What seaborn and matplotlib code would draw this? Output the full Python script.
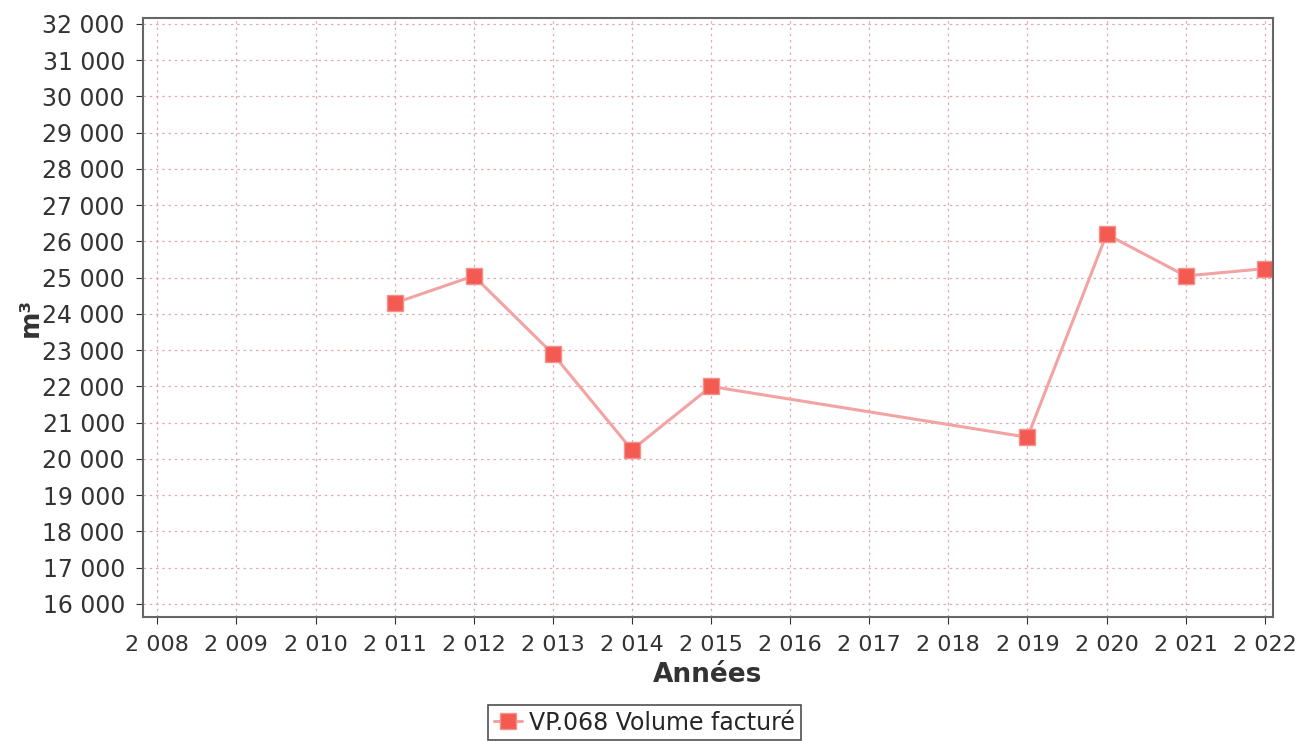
import numpy as np
import pandas as pd
import matplotlib
matplotlib.use("Agg")
import matplotlib.pyplot as plt
import matplotlib.ticker as mticker
import seaborn as sns

# ============================================================
# DATA
# ============================================================
years = [2011, 2012, 2013, 2014, 2015, 2019, 2020, 2021, 2022]
volumes = [24300, 25050, 22900, 20250, 22000, 20600, 26200, 25050, 25250]
series_name = "VP.068 Volume facturé"

df = pd.DataFrame({"Années": years, "m³": volumes, "serie": series_name})

# ============================================================
# PLOT
# ============================================================
sns.set_style("white")
plt.rcParams["font.family"] = ["DejaVu Sans"]

fig = plt.figure(figsize=(13.04, 7.41), dpi=100)
ax = fig.add_axes([0.1097, 0.1673, 0.8663, 0.8084])

sns.lineplot(
    data=df, x="Années", y="m³", hue="serie",
    palette=["#f2a3a3"], marker="s", markersize=11,
    markerfacecolor="#f25a52", markeredgecolor="#f5908a", markeredgewidth=1,
    linewidth=2.2, ax=ax, legend=True,
)

ax.set_xlim(2007.82, 2022.1)
ax.set_ylim(15640, 32165)
ax.xaxis.set_major_locator(mticker.MultipleLocator(1))
ax.yaxis.set_major_locator(mticker.MultipleLocator(1000))

space_fmt = mticker.FuncFormatter(lambda v, p: f"{int(round(v)):,}".replace(",", " "))
ax.xaxis.set_major_formatter(space_fmt)
ax.yaxis.set_major_formatter(space_fmt)

ax.grid(True, color="#e3aab0", linestyle=(0, (2, 3)), linewidth=0.9)
ax.set_axisbelow(True)

for s in ax.spines.values():
    s.set_color("#666666")
    s.set_linewidth(1.5)

ax.tick_params(axis="y", labelsize=17, colors="#333333", length=5,
               direction="out", left=True, pad=8)
ax.tick_params(axis="x", labelsize=16, colors="#333333", length=5,
               direction="out", bottom=True, pad=8)
ax.set_xlabel("Années", fontsize=19, fontweight="bold", color="#333333", labelpad=5)
ax.set_ylabel("m³", fontsize=19, fontweight="bold", color="#333333", labelpad=-1)

handles, labels = ax.get_legend_handles_labels()
ax.get_legend().remove()
leg = fig.legend(
    handles, labels, loc="upper center", bbox_to_anchor=(0.494, 0.049),
    frameon=True, fancybox=False, fontsize=17, handlelength=1.2,
    handletextpad=0.3, borderpad=0.25, borderaxespad=0,
)
leg.get_frame().set_edgecolor("#222222")
leg.get_frame().set_linewidth(1.2)

fig.savefig("out.png", dpi=100)
